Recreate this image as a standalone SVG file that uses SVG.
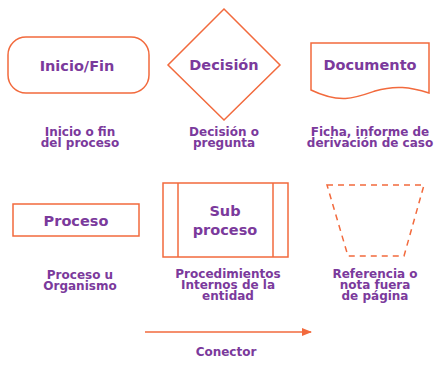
<svg xmlns="http://www.w3.org/2000/svg" width="445" height="368" viewBox="0 0 445 368">
<style>
.s{fill:#fff;stroke:#F26A3D;stroke-width:1.5}
.t{font-family:"DejaVu Sans","Noto Sans",sans-serif;font-weight:bold;fill:#7B3A9C;text-anchor:middle}
.n{font-size:14.5px}
.l{font-size:12px}
</style>
<defs>
<marker id="ah" markerWidth="10" markerHeight="8" refX="9" refY="4" orient="auto" markerUnits="userSpaceOnUse">
<path d="M0,0 L10,4 L0,8 Z" fill="#F26A3D"/>
</marker>
</defs>
<rect width="445" height="368" fill="#fff"/>
<g id="inicio">
<rect class="s" x="8" y="37" width="141" height="56" rx="18"/>
<text class="t n" x="77" y="71">Inicio/Fin</text>
<text class="t l" x="80" y="136"><tspan x="80">Inicio o fin</tspan><tspan x="80" dy="11">del proceso</tspan></text>
</g>
<g id="decision">
<path class="s" d="M224,9 L280,65 L224,120 L168,65 Z"/>
<text class="t n" x="224" y="70">Decisión</text>
<text class="t l" x="224" y="136"><tspan x="224">Decisión o</tspan><tspan x="224" dy="11">pregunta</tspan></text>
</g>
<g id="documento">
<path class="s" d="M311,43 L429,43 L429,93 C410,87 395,85 375,91 C355,98 340,104 311,90 Z"/>
<text class="t n" x="370" y="70">Documento</text>
<text class="t l" x="370" y="136"><tspan x="370">Ficha, informe de</tspan><tspan x="370" dy="11">derivación de caso</tspan></text>
</g>
<g id="proceso">
<rect class="s" x="13" y="204" width="126" height="32"/>
<text class="t n" x="76" y="226">Proceso</text>
<text class="t l" x="80" y="279"><tspan x="80">Proceso u</tspan><tspan x="80" dy="11">Organismo</tspan></text>
</g>
<g id="subproceso">
<rect class="s" x="163" y="183" width="125" height="74"/>
<line class="s" x1="178" y1="183" x2="178" y2="257"/>
<line class="s" x1="273" y1="183" x2="273" y2="257"/>
<text class="t n" x="225" y="216"><tspan x="225">Sub</tspan><tspan x="225" dy="19">proceso</tspan></text>
<text class="t l" x="228" y="278"><tspan x="228">Procedimientos</tspan><tspan x="228" dy="11">Internos de la</tspan><tspan x="228" dy="11">entidad</tspan></text>
</g>
<g id="referencia">
<path class="s" d="M327,185 L424,185 L404,256 L348,256 Z" stroke-dasharray="6,5" fill="none"/>
<text class="t l" x="375" y="278"><tspan x="375">Referencia o</tspan><tspan x="375" dy="11">nota fuera</tspan><tspan x="375" dy="11">de página</tspan></text>
</g>
<g id="connectors">
<line x1="145" y1="332" x2="311" y2="332" stroke="#F26A3D" stroke-width="1.5" marker-end="url(#ah)"/>
<text class="t l" x="226" y="356">Conector</text>
</g>
</svg>
